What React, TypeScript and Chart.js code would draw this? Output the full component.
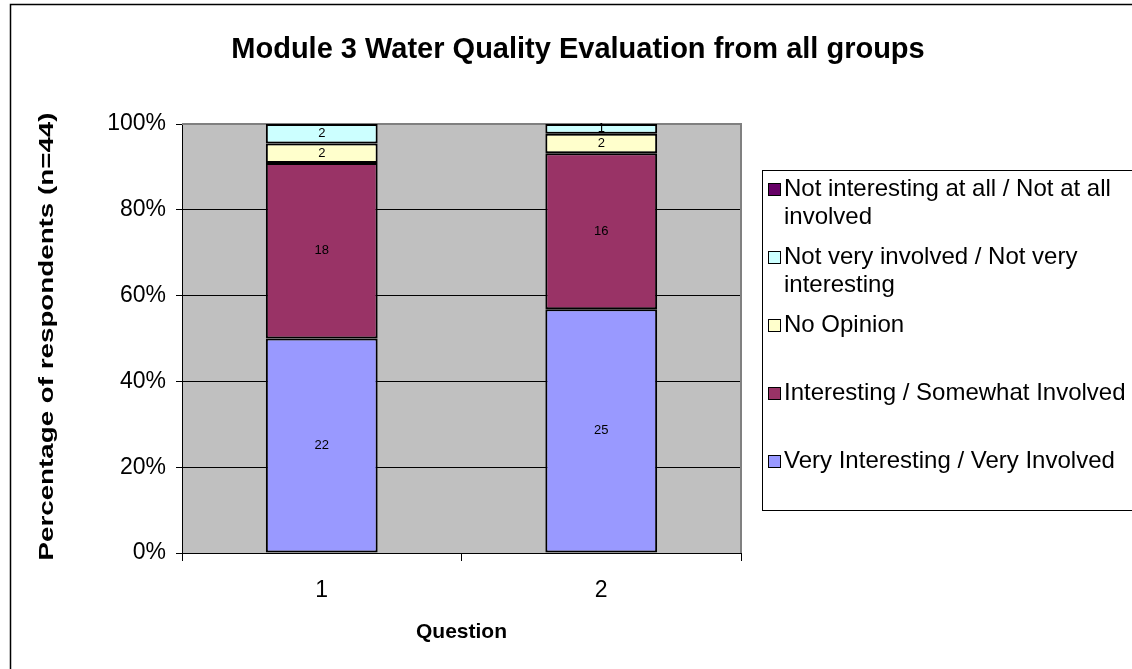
import { useEffect, useRef } from "react";
import { Chart, registerables } from "chart.js";

Chart.register(...registerables);

const chartTitle = "Module 3 Water Quality Evaluation from all groups";
const xTitle = "Question";
const yTitle = "Percentage of respondents (n=44)";
const categories = ["1", "2"];
const seriesNames = [
  "Very Interesting / Very Involved",
  "Interesting / Somewhat Involved",
  "No Opinion",
  "Not very involved / Not very interesting",
  "Not interesting at all / Not at all involved",
];
const legendLines = [
  ["Very Interesting / Very Involved"],
  ["Interesting / Somewhat Involved"],
  ["No Opinion"],
  ["Not very involved / Not very", "interesting"],
  ["Not interesting at all / Not at all", "involved"],
];
const veryInteresting = [22, 25];
const interesting = [18, 16];
const noOpinion = [2, 2];
const notVeryInterested = [2, 1];
const notAtAll = [0, 0];
const seriesColors = ["#9999FF", "#993366", "#FFFFCC", "#CCFFFF", "#660066"];
const yTickValues = [0, 20, 40, 60, 80, 100];

const FONT = "Arial, 'Liberation Sans', sans-serif";

const seriesCounts = [veryInteresting, interesting, noOpinion, notVeryInterested, notAtAll];
const totals = categories.map((_, j) => seriesCounts.reduce((s, arr) => s + arr[j], 0));

const framePlugin = {
  id: "frame",
  beforeDraw(chart: any) {
    const { ctx, chartArea: a } = chart;
    ctx.save();
    ctx.fillStyle = "#ffffff";
    ctx.fillRect(0, 0, chart.width, chart.height);
    ctx.strokeStyle = "#000000";
    ctx.lineWidth = 1.5;
    ctx.strokeRect(10.5, 4.5, chart.width + 20, chart.height + 20);
    ctx.fillStyle = "#C0C0C0";
    ctx.fillRect(a.left, a.top, a.right - a.left, a.bottom - a.top);
    ctx.restore();
  },
  beforeDatasetsDraw(chart: any) {
    const { ctx, chartArea: a } = chart;
    ctx.save();
    ctx.strokeStyle = "#808080";
    ctx.lineWidth = 2;
    ctx.beginPath();
    ctx.moveTo(a.left, a.top);
    ctx.lineTo(a.right, a.top);
    ctx.lineTo(a.right, a.bottom);
    ctx.stroke();
    ctx.restore();
  },
  afterDraw(chart: any) {
    const { ctx, chartArea: a } = chart;
    ctx.save();
    ctx.fillStyle = "#000";
    ctx.font = `bold 29px ${FONT}`;
    ctx.textAlign = "center";
    ctx.textBaseline = "middle";
    ctx.fillText(chartTitle, 578, 50);

    // y axis title (stretched along its length like the reference)
    ctx.save();
    ctx.font = `bold 20px ${FONT}`;
    const w = ctx.measureText(yTitle).width;
    ctx.translate(47, (a.top + a.bottom) / 2 - 2);
    ctx.rotate(-Math.PI / 2);
    ctx.scale(448 / w, 1);
    ctx.fillText(yTitle, 0, 0);
    ctx.restore();

    const boxLeft = 762.5, boxTop = 170.5, boxH = 340;
    ctx.strokeStyle = "#000";
    ctx.lineWidth = 1;
    ctx.strokeRect(boxLeft, boxTop, 500, boxH);
    const n = chart.data.datasets.length;
    const slot = boxH / n;
    ctx.font = `24px ${FONT}`;
    ctx.textAlign = "left";
    for (let k = 0; k < n; k++) {
      const i = n - 1 - k;
      const ds = chart.data.datasets[i];
      const y0 = boxTop + k * slot + 19;
      ctx.fillStyle = ds.backgroundColor;
      ctx.fillRect(768.5, y0 - 6, 12, 12);
      ctx.strokeRect(768.5, y0 - 6, 12, 12);
      ctx.fillStyle = "#000";
      legendLines[i].forEach((line, li) => {
        ctx.fillText(line, 784, y0 + li * 28);
      });
    }
    ctx.restore();
  },
  afterDatasetsDraw(chart: any) {
    const { ctx } = chart;
    ctx.save();
    ctx.font = `13px ${FONT}`;
    ctx.fillStyle = "#000";
    ctx.textAlign = "center";
    ctx.textBaseline = "middle";
    chart.data.datasets.forEach((ds: any, i: number) => {
      const meta = chart.getDatasetMeta(i);
      meta.data.forEach((el: any, j: number) => {
        const count = seriesCounts[i][j];
        if (!count) return;
        ctx.fillText(String(count), el.x, (el.y + el.base) / 2);
      });
    });
    ctx.restore();
  },
};

export default function App() {
  const ref = useRef<HTMLCanvasElement | null>(null);
  useEffect(() => {
    if (!ref.current) return;
    const chart = new Chart(ref.current, {
      type: "bar",
      data: {
        labels: categories,
        datasets: seriesNames.map((name, i) => ({
          label: name,
          data: seriesCounts[i].map((v, j) => (v / totals[j]) * 100),
          backgroundColor: seriesColors[i],
          borderColor: "#000000",
          borderWidth: 2,
          borderSkipped: false,
          barPercentage: 0.4,
          categoryPercentage: 1,
        })),
      },
      options: {
        animation: false,
        responsive: false,
        maintainAspectRatio: false,
        layout: { padding: { left: 29, right: 391, top: 124, bottom: 0 } },
        plugins: { legend: { display: false }, title: { display: false }, tooltip: { enabled: false } },
        scales: {
          x: {
            stacked: true,
            grid: { drawOnChartArea: false, offset: true, tickLength: 8, color: "#000" },
            border: { color: "#000", width: 1 },
            ticks: { color: "#000", font: { family: FONT, size: 23 }, padding: 16 },
            title: { display: true, text: xTitle, color: "#000", font: { family: FONT, size: 21, weight: "bold" }, padding: { top: 0, bottom: 24 } },
            afterFit: (s: any) => { s.height = 116; },
          },
          y: {
            stacked: true,
            min: 0,
            max: 100,
            afterBuildTicks: (s: any) => { s.ticks = yTickValues.map((v) => ({ value: v })); },
            grid: {
              tickLength: 6,
              color: (c: any) => (c.tick && c.tick.value === 100 ? "rgba(0,0,0,0)" : "#000"),
              tickColor: "#000",
            },
            border: { color: "#000", width: 1 },
            ticks: { color: "#000", font: { family: FONT, size: 23 }, padding: 10, callback: (v: any) => `${v}%` },
            title: { display: false },
            afterFit: (s: any) => { s.width = 153; },
          },
        },
      },
      plugins: [framePlugin],
    });
    return () => chart.destroy();
  }, []);
  return (
    <div style={{ position: "absolute", left: 0, top: 0, width: 1132, height: 669 }}>
      <canvas ref={ref} width={1132} height={669} style={{ width: 1132, height: 669, display: "block" }} />
    </div>
  );
}
